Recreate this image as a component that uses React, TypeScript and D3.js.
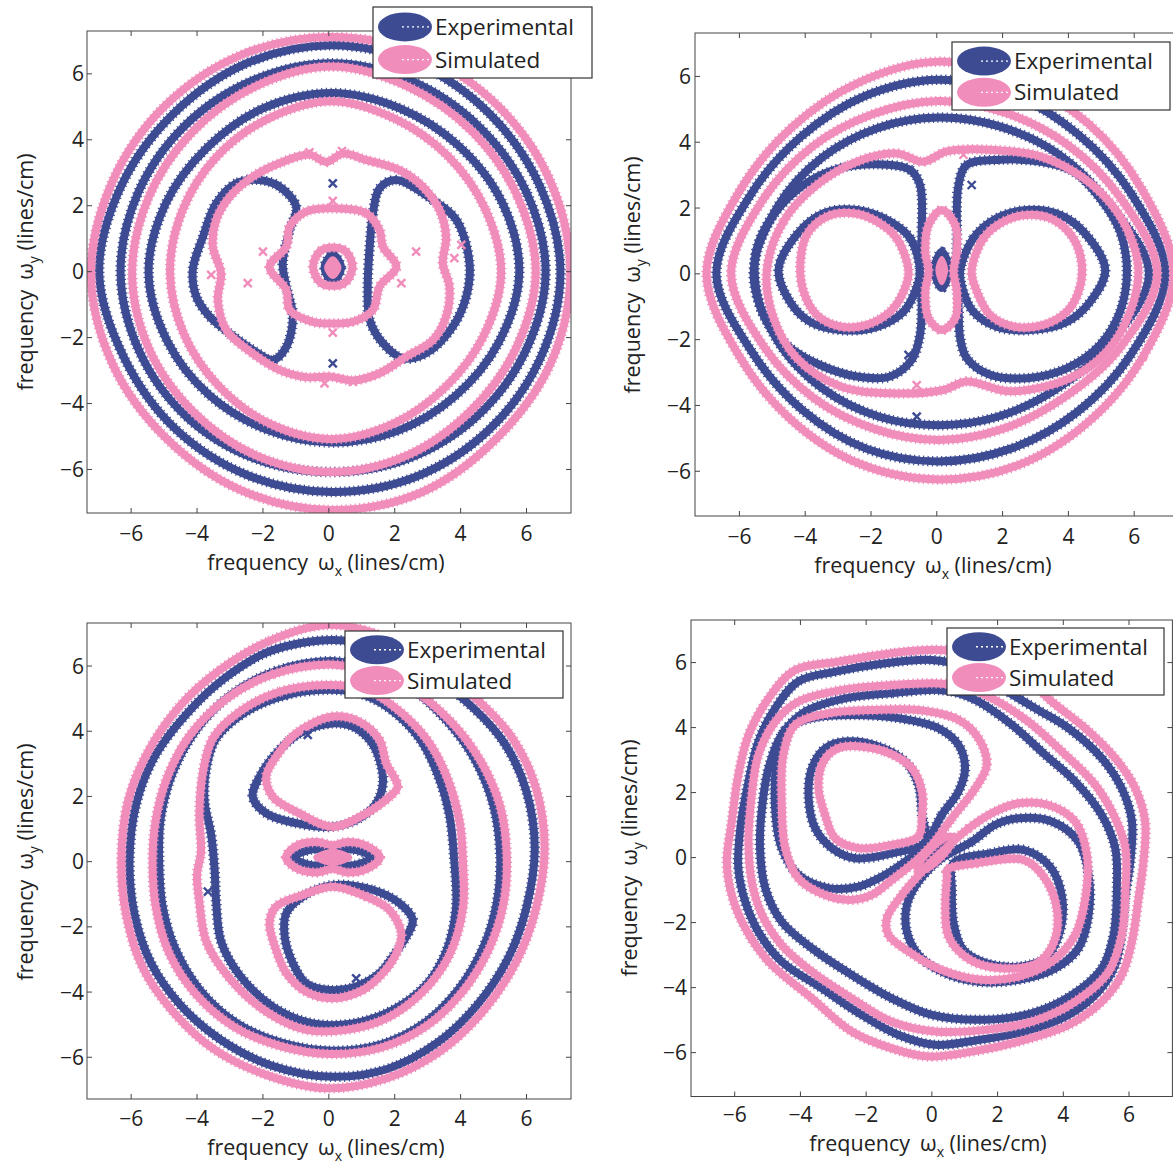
import React from 'react';
import * as d3 from 'd3';

type Pt = [number, number];

const BLUE = '#3d4b93';
const PINK = '#f18dbb';
const SERIES = ['Experimental', 'Simulated'];
const TICKS = [-6, -4, -2, 0, 2, 4, 6];
const ANGLES = [0, 22.5, 45, 67.5, 90, 112.5, 135, 157.5, 180, 202.5, 225, 247.5, 270, 292.5, 315, 337.5];

// ---------- Panel 1 ----------
const P1_CENTER: Pt = [0.08, -0.03];
const P1_SIM_RING1 = [7.25, 7.2, 7.15, 7.15, 7.15, 7.15, 7.15, 7.2, 7.3, 7.2, 7.1, 7.15, 7.2, 7.2, 7.1, 7.2];
const P1_EXP_RING1 = [6.95, 6.85, 6.8, 6.85, 6.9, 6.85, 6.8, 6.9, 7.05, 6.8, 6.7, 6.65, 6.65, 6.7, 6.75, 6.85];
const P1_EXP_RING2 = [6.5, 6.4, 6.3, 6.3, 6.35, 6.3, 6.3, 6.35, 6.4, 6.3, 6.2, 6.1, 6.05, 6.1, 6.2, 6.35];
const P1_SIM_RING2 = [6.2, 6.1, 6.05, 6.1, 6.25, 6.1, 6.0, 6.0, 6.05, 6.0, 5.95, 6.0, 6.05, 6.0, 5.95, 6.05];
const P1_EXP_RING3 = [5.7, 5.6, 5.45, 5.4, 5.45, 5.4, 5.35, 5.45, 5.55, 5.4, 5.25, 5.15, 5.15, 5.2, 5.3, 5.5];
const P1_SIM_RING3 = [5.15, 5.05, 5.0, 5.05, 5.2, 5.05, 4.95, 4.9, 4.9, 4.85, 4.85, 4.95, 5.05, 4.95, 4.9, 5.0];
const P1_SIM_BOX: Pt[] = [[-1.5,3.29],[-0.59,3.55],[-0.08,3.33],[0.43,3.58],[1.13,3.39],[2.15,3.08],[2.85,2.58],[3.36,1.87],[3.56,1.06],[3.46,0.25],[3.66,-0.45],[3.56,-1.36],[3.16,-2.07],[2.35,-2.58],[1.54,-3.08],[0.73,-3.3],[0.02,-3.18],[-0.69,-3.2],[-1.5,-2.98],[-2.31,-2.48],[-3.11,-1.77],[-3.37,-0.86],[-3.27,-0.05],[-3.52,0.76],[-3.42,1.57],[-3.01,2.27],[-2.31,2.88]];
const P1_EXP_LEFT: Pt[] = [[-2.1,2.78],[-2.81,2.68],[-3.42,2.07],[-3.82,1.06],[-4.13,0.05],[-4.02,-0.76],[-3.62,-1.36],[-3.01,-1.87],[-2.31,-2.37],[-1.7,-2.68],[-1.3,-2.3],[-1.09,-1.36],[-1.29,-0.45],[-1.4,0.25],[-1.19,1.26],[-0.99,1.97],[-1.5,2.58]];
const P1_EXP_RIGHT: Pt[] = [[2.05,2.78],[3.16,2.17],[3.87,1.57],[4.27,0.25],[4.17,-0.76],[3.76,-1.67],[2.96,-2.47],[2.25,-2.63],[1.64,-2.17],[1.24,-1.46],[1.18,-0.45],[1.24,0.76],[1.34,1.77],[1.54,2.53]];
const P1_SIM_HEX: Pt[] = [[0.12,1.92],[1.13,1.77],[1.54,1.26],[1.64,0.76],[2.05,0.15],[1.54,-0.45],[1.34,-1.16],[0.73,-1.52],[0.12,-1.57],[-0.49,-1.52],[-1.19,-1.16],[-1.29,-0.56],[-1.8,0.15],[-1.29,0.76],[-1.19,1.36],[-0.69,1.82]];
const P1_SIM_CORE: Pt[] = [[0.72,0.15],[0.45,0.66],[-0.21,0.66],[-0.48,0.15],[-0.21,-0.36],[0.45,-0.36]];
const P1_EXP_CORE: Pt[] = [[0.12,0.52],[0.37,0.12],[0.12,-0.3],[-0.13,0.12]];
const P1_SIM_DOT: Pt[] = [[0.34,0.12],[0.12,0.42],[-0.1,0.12],[0.12,-0.18]];
const P1_SIM_MARKS: Pt[] = [[-2.0,0.61],[-2.46,-0.35],[-3.57,-0.1],[2.65,0.61],[2.2,-0.35],[3.81,0.41],[4.02,0.81],[-0.59,3.62],[0.4,3.66],[-0.13,-3.39],[0.73,-3.34],[0.12,2.15],[0.12,-1.85]];
const P1_EXP_MARKS: Pt[] = [[0.12,2.68],[0.12,-2.78]];

// ---------- Panel 2 ----------
const P2_CENTER: Pt = [0.05, 0];
const P2_SIM_RING1 = [7.15, 6.7, 6.45, 6.35, 6.45, 6.3, 6.3, 6.55, 7.05, 6.55, 6.3, 6.25, 6.25, 6.3, 6.4, 6.7];
const P2_EXP_RING1 = [6.9, 6.35, 6.0, 5.9, 5.9, 5.85, 5.9, 6.2, 6.75, 6.15, 5.85, 5.75, 5.7, 5.75, 5.95, 6.35];
const P2_SIM_RING2 = [6.65, 6.0, 5.55, 5.3, 5.25, 5.25, 5.45, 5.8, 6.3, 5.75, 5.35, 5.1, 5.05, 5.1, 5.35, 5.95];
const P2_EXP_RING2 = [6.4, 5.6, 5.15, 4.85, 4.75, 4.8, 5.0, 5.3, 5.62, 5.3, 4.95, 4.7, 4.6, 4.7, 5.0, 5.6];
const P2_SIM_LEVEL3: Pt[] = [[-5.17,0.07],[-4.66,1.59],[-3.65,2.7],[-2.43,3.41],[-1.22,3.66],[-0.41,3.41],[0.3,3.72],[1.62,3.77],[3.14,3.57],[4.46,2.91],[5.47,1.9],[5.98,0.88],[6.13,0.07],[5.88,-1.15],[5.17,-2.36],[4.05,-3.17],[2.23,-3.57],[0.91,-3.27],[0.2,-3.53],[-1.42,-3.63],[-2.94,-3.42],[-4.26,-2.56],[-4.96,-1.35]];
const P2_EXP_LEFT_D: Pt[] = [[-0.51,2.7],[-0.81,3.16],[-1.82,3.33],[-2.94,3.21],[-4.05,2.7],[-4.96,1.79],[-5.47,0.78],[-5.52,-0.23],[-5.27,-1.25],[-4.56,-2.16],[-3.55,-2.77],[-2.43,-3.12],[-1.42,-3.12],[-0.76,-2.61],[-0.51,-1.85],[-0.46,-0.94],[-0.51,0.07],[-0.46,1.28]];
const P2_EXP_RIGHT_D: Pt[] = [[0.66,2.7],[0.91,3.31],[1.93,3.47],[3.14,3.41],[4.15,3.11],[4.96,2.3],[5.57,1.29],[5.78,0.07],[5.57,-1.15],[4.96,-2.16],[3.95,-2.87],[2.74,-3.17],[1.62,-3.07],[0.91,-2.56],[0.71,-1.95],[0.66,-0.94],[0.61,0.07],[0.61,1.28]];
const P2_SIM_LEFT_LOBE: Pt[] = [[-0.86,0.07],[-1.22,1.08],[-1.82,1.59],[-2.53,1.84],[-3.34,1.74],[-3.95,1.19],[-4.15,0.27],[-4.05,-0.54],[-3.65,-1.25],[-2.94,-1.6],[-2.13,-1.55],[-1.42,-1.15],[-1.01,-0.54]];
const P2_EXP_LEFT_LOBE: Pt[] = [[-0.51,0.07],[-0.81,1.08],[-1.42,1.59],[-2.43,1.94],[-3.44,1.84],[-4.26,1.19],[-4.81,0.12],[-4.46,-0.85],[-3.85,-1.46],[-2.94,-1.71],[-1.82,-1.61],[-1.01,-1.15],[-0.66,-0.54]];
const P2_SIM_RIGHT_LOBE: Pt[] = [[1.06,0.07],[1.42,1.08],[2.03,1.59],[2.74,1.79],[3.55,1.64],[4.15,1.08],[4.41,0.27],[4.31,-0.54],[3.95,-1.15],[3.24,-1.55],[2.33,-1.6],[1.62,-1.25],[1.22,-0.54]];
const P2_EXP_RIGHT_LOBE: Pt[] = [[0.71,0.07],[1.11,1.08],[1.82,1.69],[2.74,1.94],[3.75,1.79],[4.46,1.28],[5.12,0.12],[4.66,-0.85],[3.95,-1.46],[2.84,-1.71],[1.82,-1.61],[1.11,-1.15],[0.81,-0.54]];
const P2_SIM_CENTER: Pt[] = [[0.15,1.94],[0.56,1.49],[0.61,0.68],[0.51,0.07],[0.61,-0.54],[0.56,-1.35],[0.15,-1.71],[-0.25,-1.35],[-0.35,-0.54],[-0.25,0.07],[-0.35,0.68],[-0.25,1.49]];
const P2_EXP_BLOB: Pt[] = [[0.15,0.67],[0.37,0.12],[0.15,-0.43],[-0.07,0.12]];
const P2_SIM_DOT: Pt[] = [[0.15,0.5],[0.3,0.12],[0.15,-0.3],[0.0,0.12]];
const P2_SIM_MARKS: Pt[] = [[0.81,3.62],[-0.61,-3.38]];
const P2_EXP_MARKS: Pt[] = [[1.06,2.7],[-0.86,-2.46],[-0.61,-4.34]];

// ---------- Panel 3 ----------
const P3_SIM_L1: Pt[] = [[-0.08,7.26],[-1.85,6.75],[-3.35,5.85],[-4.5,4.8],[-5.5,3.35],[-6.1,1.84],[-6.3,0],[-6.15,-1.64],[-5.64,-3.27],[-4.73,-4.6],[-3.52,-5.73],[-1.9,-6.54],[-0.08,-6.95],[1.74,-6.65],[3.36,-5.83],[4.67,-4.6],[5.69,-3.07],[6.29,-1.43],[6.55,0.41],[6.29,2.25],[5.58,3.78],[4.57,4.91],[3.16,6.03],[1.54,6.95]];
const P3_EXP_L1: Pt[] = [[0.12,6.8],[-1.8,6.45],[-3.2,5.6],[-4.3,4.55],[-5.3,3.2],[-5.85,1.75],[-6.05,0],[-5.9,-1.6],[-5.4,-3.1],[-4.5,-4.4],[-3.3,-5.45],[-1.75,-6.25],[0.1,-6.6],[1.8,-6.35],[3.3,-5.55],[4.5,-4.4],[5.45,-2.95],[6.0,-1.4],[6.25,0.4],[6.0,2.15],[5.35,3.6],[4.4,4.7],[3.05,5.75],[1.5,6.55]];
const P3_SIM_L2: Pt[] = [[0.0,6.05],[-1.7,5.75],[-3.1,5.0],[-4.2,3.9],[-4.9,2.6],[-5.25,1.3],[-5.35,0],[-5.25,-1.4],[-4.85,-2.8],[-4.05,-4.05],[-2.9,-5.05],[-1.5,-5.65],[0.05,-5.9],[1.6,-5.7],[2.95,-5.05],[4.05,-4.0],[4.85,-2.7],[5.3,-1.3],[5.4,0.2],[5.2,1.7],[4.6,3.1],[3.7,4.3],[2.5,5.3],[1.2,5.85]];
const P3_EXP_L2: Pt[] = [[0.15,6.15],[-1.6,5.85],[-3.0,5.1],[-4.05,4.0],[-4.75,2.7],[-5.1,1.35],[-5.15,0],[-5.05,-1.35],[-4.65,-2.7],[-3.9,-3.95],[-2.8,-4.95],[-1.45,-5.55],[0.1,-5.8],[1.6,-5.6],[2.9,-4.95],[3.95,-3.9],[4.7,-2.6],[5.1,-1.25],[5.2,0.2],[5.0,1.7],[4.45,3.1],[3.6,4.3],[2.45,5.35],[1.3,5.9]];
const P3_SIM_L3: Pt[] = [[-0.08,5.42],[-1.5,5.21],[-2.71,4.6],[-3.52,3.78],[-3.82,2.76],[-3.93,1.43],[-3.88,0.3],[-4.0,-0.4],[-3.93,-1.23],[-3.72,-2.45],[-3.01,-3.58],[-1.9,-4.6],[-0.69,-5.16],[0.53,-5.16],[1.74,-4.81],[2.85,-3.99],[3.66,-2.86],[4.07,-1.43],[4.07,0],[3.97,1.23],[3.56,2.66],[2.95,3.78],[2.04,4.7],[1.13,5.27]];
const P3_EXP_L3: Pt[] = [[0.02,5.27],[-1.29,5.11],[-2.51,4.6],[-3.42,3.78],[-3.72,2.86],[-3.77,1.84],[-3.57,0.82],[-3.47,-0.2],[-3.42,-1.23],[-3.27,-2.45],[-2.71,-3.48],[-1.7,-4.45],[-0.49,-4.96],[0.73,-4.96],[1.94,-4.55],[2.95,-3.78],[3.56,-2.76],[3.86,-1.43],[3.81,0],[3.66,1.43],[3.31,2.66],[2.75,3.78],[1.84,4.7],[0.93,5.16]];
const P3_SIM_UPPER: Pt[] = [[0.12,4.45],[-0.99,3.94],[-1.6,3.22],[-1.9,2.61],[-1.7,1.99],[-0.89,1.48],[0.12,1.07],[1.13,1.48],[1.84,1.99],[2.09,2.3],[1.74,3.02],[1.54,3.73],[0.93,4.29]];
const P3_EXP_UPPER: Pt[] = [[0.12,4.24],[-0.79,3.99],[-1.5,3.43],[-2.1,2.61],[-2.31,1.99],[-1.9,1.48],[-0.99,1.18],[0.12,1.07],[0.93,1.33],[1.44,1.79],[1.64,2.4],[1.54,3.12],[1.24,3.73],[0.73,4.14]];
const P3_SIM_LOWER: Pt[] = [[0.12,-0.77],[1.13,-1.07],[1.84,-1.48],[2.2,-2.2],[2.05,-2.81],[1.64,-3.42],[1.03,-3.94],[0.12,-4.19],[-0.69,-3.99],[-1.29,-3.42],[-1.6,-2.71],[-1.8,-1.89],[-1.6,-1.38],[-0.79,-1.02]];
const P3_EXP_LOWER: Pt[] = [[0.12,-0.72],[1.34,-0.87],[2.15,-1.28],[2.55,-1.79],[2.35,-2.3],[1.94,-2.91],[1.54,-3.42],[0.83,-3.83],[0.02,-3.94],[-0.69,-3.73],[-1.09,-3.12],[-1.34,-2.3],[-1.29,-1.58],[-0.79,-1.07]];
const P3_SIM_CENTER: Pt[] = [[1.55,0.13],[1.15,0.48],[0.55,0.6],[0.12,0.5],[-0.35,0.6],[-0.95,0.5],[-1.3,0.13],[-0.95,-0.22],[-0.35,-0.33],[0.12,-0.22],[0.55,-0.33],[1.15,-0.22]];
const P3_EXP_CENTER: Pt[] = [[1.3,0.13],[0.7,0.38],[0.12,0.3],[-0.5,0.38],[-1.05,0.13],[-0.5,-0.12],[0.12,-0.05],[0.7,-0.12]];
const P3_SIM_DOT: Pt[] = [[0.67,0.13],[0.12,0.35],[-0.43,0.13],[0.12,-0.09]];
const P3_EXP_MARKS: Pt[] = [[-0.64,3.89],[0.83,-3.58],[-3.67,-0.92]];

// ---------- Panel 4 ----------
const P4_SIM_L1: Pt[] = [[0.2,6.39],[-1.22,6.29],[-2.84,6.03],[-4.16,5.77],[-4.97,4.9],[-5.58,3.77],[-5.89,2.54],[-6.09,1.11],[-6.24,-0.12],[-6.09,-1.15],[-5.68,-2.17],[-4.97,-3.2],[-3.65,-4.33],[-2.44,-5.35],[-1.22,-5.87],[-0.1,-6.12],[1.22,-5.97],[2.64,-5.66],[4.16,-5.15],[5.17,-4.43],[5.78,-3.61],[6.09,-2.58],[6.29,-1.25],[6.44,-0.12],[6.49,1.11],[6.19,2.13],[5.58,3.06],[4.67,3.98],[3.65,4.8],[2.64,5.72],[1.42,6.24]];
const P4_EXP_L1: Pt[] = [[0.0,6.08],[-1.42,5.98],[-2.94,5.72],[-4.06,5.42],[-4.77,4.59],[-5.28,3.57],[-5.58,2.34],[-5.83,0.9],[-5.89,-0.33],[-5.68,-1.35],[-5.28,-2.28],[-4.57,-3.2],[-3.35,-4.02],[-2.13,-4.84],[-1.01,-5.46],[0.1,-5.76],[1.42,-5.61],[2.84,-5.35],[4.16,-4.84],[5.07,-4.12],[5.58,-3.3],[5.78,-2.28],[5.89,-1.15],[6.04,-0.12],[6.09,1.11],[5.78,2.13],[5.17,3.06],[4.16,3.98],[3.15,4.59],[2.13,5.21],[1.12,5.83]];
const P4_SIM_L2: Pt[] = [[0.2,5.36],[-1.22,5.31],[-2.74,5.16],[-4.06,4.8],[-4.77,4.18],[-5.28,3.16],[-5.48,1.93],[-5.58,0.49],[-5.48,-0.74],[-5.17,-1.76],[-4.57,-2.69],[-3.65,-3.51],[-2.44,-4.33],[-1.22,-5.05],[0.1,-5.35],[1.62,-5.3],[3.04,-5.05],[4.36,-4.43],[5.38,-3.51],[5.78,-2.38],[5.89,-1.05],[5.89,0.29],[5.58,1.21],[4.97,2.24],[3.96,3.26],[2.94,4.18],[1.83,4.9],[1.01,5.26]];
const P4_EXP_L2: Pt[] = [[0.2,5.16],[-1.22,5.06],[-2.64,4.9],[-3.86,4.49],[-4.57,3.77],[-4.97,2.75],[-5.17,1.52],[-5.23,0.29],[-5.07,-0.94],[-4.57,-1.97],[-3.65,-2.79],[-2.44,-3.61],[-1.22,-4.33],[0.0,-4.84],[1.62,-4.99],[3.04,-4.79],[4.26,-4.23],[5.17,-3.41],[5.53,-2.38],[5.63,-1.05],[5.58,0.29],[5.17,1.31],[4.36,2.34],[3.45,3.16],[2.44,4.08],[1.42,4.8],[0.81,5.06]];
const P4_SIM_L3_UPPER: Pt[] = [[0,0.39],[0.61,1.21],[1.32,2.13],[1.67,2.85],[1.42,3.67],[0.81,4.24],[-0.41,4.54],[-1.83,4.54],[-3.15,4.44],[-4.16,4.08],[-4.52,3.16],[-4.57,1.72],[-4.46,0.29],[-4.06,-0.64],[-3.25,-1.15],[-2.44,-1.3],[-1.83,-1.15],[-1.22,-0.69],[-0.51,-0.12]];
const P4_EXP_L3_UPPER: Pt[] = [[-0.2,0.39],[0.3,1.31],[0.81,2.03],[1.01,2.75],[0.81,3.47],[0.2,3.98],[-1.01,4.29],[-2.44,4.39],[-3.65,4.29],[-4.46,3.93],[-4.72,2.95],[-4.77,1.52],[-4.57,0.29],[-4.06,-0.53],[-3.15,-0.94],[-2.23,-0.89],[-1.42,-0.53],[-0.81,-0.12]];
const P4_SIM_L3_LOWER: Pt[] = [[0.2,0.08],[1.12,0.9],[1.93,1.42],[2.64,1.67],[3.55,1.62],[4.36,1.11],[4.72,0.08],[4.67,-1.25],[4.36,-2.38],[3.65,-3.2],[2.64,-3.66],[1.52,-3.76],[0.3,-3.46],[-0.71,-2.89],[-1.32,-2.38],[-1.37,-1.87],[-0.91,-1.15],[-0.3,-0.43]];
const P4_EXP_L3_LOWER: Pt[] = [[0.3,-0.02],[1.22,0.49],[1.93,1.01],[2.64,1.21],[3.65,1.11],[4.46,0.49],[4.77,-0.53],[4.77,-1.76],[4.46,-2.79],[3.75,-3.41],[2.64,-3.76],[1.42,-3.82],[0.3,-3.51],[-0.41,-2.99],[-0.76,-2.28],[-0.76,-1.46],[-0.41,-0.74]];
const P4_SIM_L4_UPPER: Pt[] = [[-2.64,3.42],[-1.42,3.26],[-0.61,2.75],[-0.3,2.03],[-0.3,1.31],[-0.41,0.65],[-1.22,0.39],[-2.23,0.29],[-2.94,0.59],[-3.25,1.31],[-3.45,2.13],[-3.35,2.85],[-3.04,3.26]];
const P4_EXP_L4_UPPER: Pt[] = [[-2.64,3.57],[-1.62,3.42],[-0.81,2.95],[-0.41,2.24],[-0.3,1.31],[-0.2,0.49],[-1.22,0.13],[-2.33,-0.02],[-3.04,0.29],[-3.55,0.9],[-3.75,1.83],[-3.65,2.75],[-3.25,3.36]];
const P4_SIM_L4_LOWER: Pt[] = [[0.46,-0.38],[1.37,-0.17],[2.79,-0.07],[3.4,-0.58],[3.81,-1.61],[3.7,-2.64],[3.2,-3.25],[2.18,-3.41],[1.17,-3.15],[0.51,-2.43],[0.41,-1.41],[0.46,-0.58]];
const P4_EXP_L4_LOWER: Pt[] = [[0.66,-0.17],[1.78,0.13],[2.79,0.24],[3.6,-0.28],[3.96,-1.2],[3.91,-2.23],[3.5,-3.05],[2.69,-3.35],[1.67,-3.25],[0.96,-2.84],[0.66,-2.02],[0.61,-1.0]];
const P4_SIM_CENTER: Pt[] = [[0.61,0.64],[0.36,0.59],[-0.04,0.27],[-0.36,-0.13],[-0.41,-0.38],[-0.16,-0.33],[0.24,-0.01],[0.56,0.39]];
const P4_EXP_CENTER: Pt[] = [[0.4,0.43],[0.05,0.15],[-0.2,-0.17],[0.15,0.11]];

// ---------- layout (pixel geometry) ----------
const LAYOUT = [
  { x0: 87, x1: 571, y0: 31, y1: 513, xd: [-7.34, 7.35], yd: [-7.32, 7.3], leg: [373, 7, 219, 71], tickY: 540.5, labX: [326, 569.5], labY: [33, 272], tickX: 84 },
  { x0: 695, x1: 1178.6, y0: 33, y1: 516, xd: [-7.35, 7.35], yd: [-7.36, 7.32], leg: [952, 42, 218, 68], tickY: 544, labX: [933, 573], labY: [640, 275], tickX: 691 },
  { x0: 87, x1: 571, y0: 623, y1: 1099, xd: [-7.34, 7.35], yd: [-7.28, 7.32], leg: [345, 631, 218, 67], tickY: 1125.5, labX: [326, 1154.5], labY: [33, 862], tickX: 84 },
  { x0: 691, x1: 1172.4, y0: 620, y1: 1096.5, xd: [-7.33, 7.32], yd: [-7.35, 7.31], leg: [947, 628, 217, 67], tickY: 1122, labX: [928, 1151], labY: [637, 858], tickX: 687 },
];

type Curve = { pts: Pt[]; s: 0 | 1; fill?: boolean };

const polar = (c: Pt, radii: number[]): Pt[] =>
  radii.map((r, i) => [c[0] + r * Math.cos((ANGLES[i] * Math.PI) / 180), c[1] + r * Math.sin((ANGLES[i] * Math.PI) / 180)] as Pt);

const PANELS: { curves: Curve[]; marks: { pts: Pt[]; s: 0 | 1 }[] }[] = [
  {
    curves: [
      { pts: polar(P1_CENTER, P1_EXP_RING1), s: 0 },
      { pts: polar(P1_CENTER, P1_EXP_RING2), s: 0 },
      { pts: polar(P1_CENTER, P1_EXP_RING3), s: 0 },
      { pts: P1_EXP_LEFT, s: 0 },
      { pts: P1_EXP_RIGHT, s: 0 },
      { pts: P1_EXP_CORE, s: 0 },
      { pts: polar(P1_CENTER, P1_SIM_RING1), s: 1 },
      { pts: polar(P1_CENTER, P1_SIM_RING2), s: 1 },
      { pts: polar(P1_CENTER, P1_SIM_RING3), s: 1 },
      { pts: P1_SIM_BOX, s: 1 },
      { pts: P1_SIM_HEX, s: 1 },
      { pts: P1_SIM_CORE, s: 1 },
      { pts: P1_SIM_DOT, s: 1, fill: true },
    ],
    marks: [{ pts: P1_EXP_MARKS, s: 0 }, { pts: P1_SIM_MARKS, s: 1 }],
  },
  {
    curves: [
      { pts: polar(P2_CENTER, P2_EXP_RING1), s: 0 },
      { pts: polar(P2_CENTER, P2_EXP_RING2), s: 0 },
      { pts: P2_EXP_LEFT_D, s: 0 },
      { pts: P2_EXP_RIGHT_D, s: 0 },
      { pts: P2_EXP_LEFT_LOBE, s: 0 },
      { pts: P2_EXP_RIGHT_LOBE, s: 0 },
      { pts: polar(P2_CENTER, P2_SIM_RING1), s: 1 },
      { pts: polar(P2_CENTER, P2_SIM_RING2), s: 1 },
      { pts: P2_SIM_LEVEL3, s: 1 },
      { pts: P2_SIM_LEFT_LOBE, s: 1 },
      { pts: P2_SIM_RIGHT_LOBE, s: 1 },
      { pts: P2_SIM_CENTER, s: 1 },
      { pts: P2_SIM_DOT, s: 1, fill: true },
      { pts: P2_EXP_BLOB, s: 0 },
    ],
    marks: [{ pts: P2_EXP_MARKS, s: 0 }, { pts: P2_SIM_MARKS, s: 1 }],
  },
  {
    curves: [
      { pts: P3_EXP_L1, s: 0 },
      { pts: P3_EXP_L2, s: 0 },
      { pts: P3_EXP_L3, s: 0 },
      { pts: P3_EXP_UPPER, s: 0 },
      { pts: P3_EXP_LOWER, s: 0 },
      { pts: P3_EXP_CENTER, s: 0 },
      { pts: P3_SIM_L1, s: 1 },
      { pts: P3_SIM_L2, s: 1 },
      { pts: P3_SIM_L3, s: 1 },
      { pts: P3_SIM_UPPER, s: 1 },
      { pts: P3_SIM_LOWER, s: 1 },
      { pts: P3_SIM_CENTER, s: 1 },
      { pts: P3_SIM_DOT, s: 1, fill: true },
    ],
    marks: [{ pts: P3_EXP_MARKS, s: 0 }],
  },
  {
    curves: [
      { pts: P4_EXP_L1, s: 0 },
      { pts: P4_EXP_L2, s: 0 },
      { pts: P4_EXP_L3_UPPER, s: 0 },
      { pts: P4_EXP_L3_LOWER, s: 0 },
      { pts: P4_EXP_L4_UPPER, s: 0 },
      { pts: P4_EXP_L4_LOWER, s: 0 },
      { pts: P4_SIM_L1, s: 1 },
      { pts: P4_SIM_L2, s: 1 },
      { pts: P4_SIM_L3_UPPER, s: 1 },
      { pts: P4_SIM_L3_LOWER, s: 1 },
      { pts: P4_SIM_L4_UPPER, s: 1 },
      { pts: P4_SIM_L4_LOWER, s: 1 },
      { pts: P4_SIM_CENTER, s: 1 },
      { pts: P4_EXP_CENTER, s: 0 },
    ],
    marks: [],
  },
];

const COLORS = [BLUE, PINK];
const FONT = "'Open Sans', 'DejaVu Sans', sans-serif";
const FS = 21;

function AxisLabel({ x, y, sub, rotate }: { x: number; y: number; sub: string; rotate?: boolean }) {
  return (
    <text
      transform={rotate ? `translate(${x},${y}) rotate(-90)` : `translate(${x},${y})`}
      textAnchor="middle"
      fontSize={FS + 0.5}
      fill="#222"
    >
      frequency
      <tspan dx={10}>ω</tspan>
      <tspan fontSize={14} dy={6}>{sub}</tspan>
      <tspan dy={-6}>{'\u00a0(lines/cm)'}</tspan>
    </text>
  );
}

function Panel({ idx }: { idx: number }) {
  const L = LAYOUT[idx];
  const P = PANELS[idx];
  const x = d3.scaleLinear().domain(L.xd).range([L.x0, L.x1]);
  const y = d3.scaleLinear().domain(L.yd).range([L.y1, L.y0]);
  const line = d3
    .line<Pt>()
    .x((d) => x(d[0]))
    .y((d) => y(d[1]))
    .curve(d3.curveCatmullRomClosed.alpha(0.5));
  const clipId = `plotclip${idx}`;
  const ordered = [...P.curves.filter((c) => c.s === 0 && !c.fill), ...P.curves.filter((c) => c.s === 1 || c.fill)];
  const fmt = d3.format('');
  const [lx, ly, lw, lh] = L.leg;
  const tk = 5;
  return (
    <g>
      <defs>
        <clipPath id={clipId}>
          <rect x={L.x0} y={L.y0} width={L.x1 - L.x0} height={L.y1 - L.y0} />
        </clipPath>
      </defs>
      <g clipPath={`url(#${clipId})`}>
        {ordered.map((c, i) => {
          const d = line(c.pts) || '';
          const col = COLORS[c.s];
          if (c.fill) return <path key={i} d={d} fill={col} stroke={col} strokeWidth={3} />;
          return (
            <g key={i}>
              <path d={d} fill="none" stroke={col} strokeWidth={8} strokeLinejoin="round" />
              <path d={d} fill="none" stroke={col} strokeWidth={10.5} strokeDasharray="1.2 3.4" />
            </g>
          );
        })}
        {P.marks.map((m, j) =>
          m.pts.map((p, i) => {
            const cx = x(p[0]);
            const cy = y(p[1]);
            return (
              <path
                key={`${j}-${i}`}
                d={`M${cx - 4},${cy - 4}L${cx + 4},${cy + 4}M${cx - 4},${cy + 4}L${cx + 4},${cy - 4}`}
                stroke={COLORS[m.s]}
                strokeWidth={2.4}
              />
            );
          })
        )}
      </g>
      <rect x={L.x0} y={L.y0} width={L.x1 - L.x0} height={L.y1 - L.y0} fill="none" stroke="#444" strokeWidth={1} />
      {TICKS.map((t) => (
        <g key={`t${t}`} stroke="#444" strokeWidth={1}>
          <line x1={x(t)} x2={x(t)} y1={L.y1} y2={L.y1 - tk} />
          <line x1={x(t)} x2={x(t)} y1={L.y0} y2={L.y0 + tk} />
          <line x1={L.x0} x2={L.x0 + tk} y1={y(t)} y2={y(t)} />
          <line x1={L.x1} x2={L.x1 - tk} y1={y(t)} y2={y(t)} />
        </g>
      ))}
      {TICKS.map((t) => (
        <text key={`xl${t}`} x={x(t)} y={L.tickY} textAnchor="middle" fontSize={FS} fill="#222">
          {fmt(t)}
        </text>
      ))}
      {TICKS.map((t) => (
        <text key={`yl${t}`} x={L.tickX} y={y(t) + 7.5} textAnchor="end" fontSize={FS} fill="#222">
          {fmt(t)}
        </text>
      ))}
      <AxisLabel x={L.labX[0]} y={L.labX[1]} sub="x" />
      <AxisLabel x={L.labY[0]} y={L.labY[1]} sub="y" rotate />
      <g>
        <rect x={lx} y={ly} width={lw} height={lh} fill="#fff" stroke="#333" strokeWidth={1.2} />
        {SERIES.map((s, i) => {
          const cy = ly + lh * (i === 0 ? 0.28 : 0.74);
          const cx = lx + 32;
          return (
            <g key={s}>
              <ellipse cx={cx} cy={cy} rx={27} ry={14.5} fill={COLORS[i]} />
              <line x1={cx - 3} x2={cx + 27} y1={cy} y2={cy} stroke="#fff" strokeWidth={1.3} strokeDasharray="2 3" />
              <text x={lx + 62} y={cy + 8} fontSize={22.5} fill="#222">
                {s}
              </text>
            </g>
          );
        })}
      </g>
    </g>
  );
}

export default function App() {
  return (
    <svg
      width={1173}
      height={1166}
      style={{ position: 'absolute', left: 0, top: 0, background: '#fff' }}
      fontFamily={FONT}
    >
      <rect x={0} y={0} width={1173} height={1166} fill="#fff" />
      {PANELS.map((_, i) => (
        <Panel key={i} idx={i} />
      ))}
    </svg>
  );
}
